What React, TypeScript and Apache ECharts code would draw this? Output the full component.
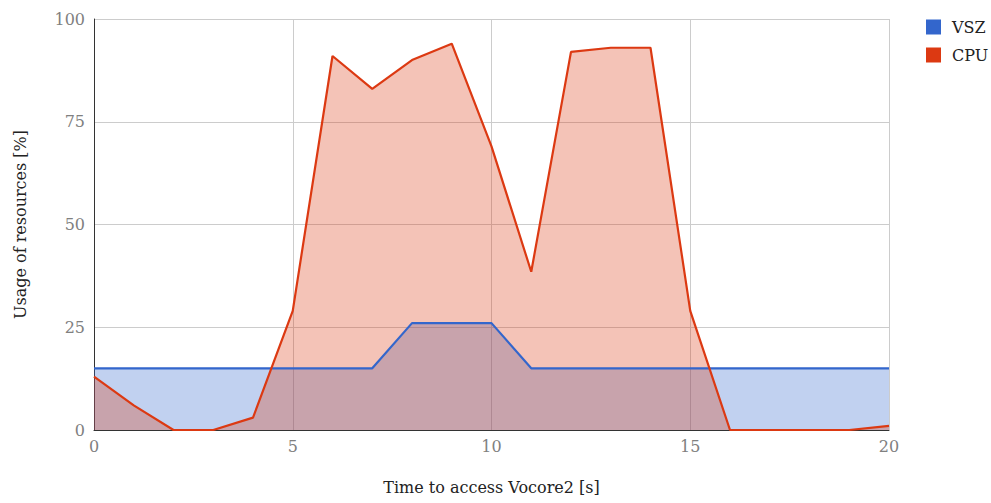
import React, { useEffect, useRef } from "react";
import * as echarts from "echarts";

const times = [0, 1, 2, 3, 4, 5, 6, 7, 8, 9, 10, 11, 12, 13, 14, 15, 16, 17, 18, 19, 20];
const vszValues = [15, 15, 15, 15, 15, 15, 15, 15, 26, 26, 26, 15, 15, 15, 15, 15, 15, 15, 15, 15, 15];
const cpuValues = [13, 6, 0, 0, 3, 29, 91, 83, 90, 94, 69, 38.5, 92, 93, 93, 29, 0, 0, 0, 0, 1];
const seriesNames = ["VSZ", "CPU"];
const seriesColors = ["#3366cc", "#dc3912"];
const xTitle = "Time to access Vocore2 [s]";
const yTitle = "Usage of resources [%]";

const FONT = "DejaVu Serif";

export default function App() {
  const ref = useRef<HTMLDivElement>(null);
  useEffect(() => {
    document.body.style.margin = "0";
    if (!ref.current) return;
    const chart = echarts.init(ref.current, undefined, { renderer: "svg" });
    const mk = (vals: number[]) => times.map((t, i) => [t, vals[i]]);
    const allVals = [vszValues, cpuValues];
    const areaSeries = seriesNames.map((name, i) => ({
      name,
      type: "line",
      data: mk(allVals[i]),
      symbol: "none",
      showSymbol: false,
      color: seriesColors[i],
      lineStyle: { width: 0, opacity: 0 },
      areaStyle: { color: seriesColors[i], opacity: 0.3 },
      z: 2,
    }));
    const lineSeries = seriesNames.map((name, i) => ({
      name,
      type: "line",
      data: mk(allVals[i]),
      symbol: "none",
      showSymbol: false,
      color: seriesColors[i],
      lineStyle: { width: 2.2, color: seriesColors[i] },
      z: 3,
    }));
    chart.setOption({
      animation: false,
      textStyle: { fontFamily: FONT },
      grid: { left: 94, right: 102, top: 19, bottom: 73, containLabel: false },
      legend: {
        orient: "vertical",
        left: 921,
        top: 14,
        icon: "rect",
        itemWidth: 15,
        itemHeight: 15,
        itemGap: 12,
        textStyle: { fontFamily: FONT, fontSize: 16, color: "#222", lineHeight: 15, padding: [0, 0, 0, 6] },
        data: seriesNames,
      },
      xAxis: {
        type: "value",
        min: 0,
        max: 20,
        interval: 5,
        name: xTitle,
        nameLocation: "middle",
        nameGap: 49,
        nameTextStyle: { fontFamily: FONT, fontSize: 16, color: "#222" },
        axisLine: { show: true, onZero: false, lineStyle: { color: "#333", width: 1 } },
        axisTick: { show: false },
        axisLabel: { fontFamily: FONT, fontSize: 16, color: "#808080", margin: 8 },
        splitLine: { show: true, lineStyle: { color: "#cccccc", width: 1 } },
      },
      yAxis: {
        type: "value",
        min: 0,
        max: 100,
        interval: 25,
        name: yTitle,
        nameLocation: "middle",
        nameGap: 66,
        nameTextStyle: { fontFamily: FONT, fontSize: 16, color: "#222" },
        axisLine: { show: true, lineStyle: { color: "#333", width: 1 } },
        axisTick: { show: false },
        axisLabel: { fontFamily: FONT, fontSize: 16, color: "#808080", margin: 9 },
        splitLine: { show: true, lineStyle: { color: "#cccccc", width: 1 } },
      },
      series: [...areaSeries, ...lineSeries],
    });
    return () => chart.dispose();
  }, []);
  return <div ref={ref} style={{ width: 991, height: 503 }} />;
}
